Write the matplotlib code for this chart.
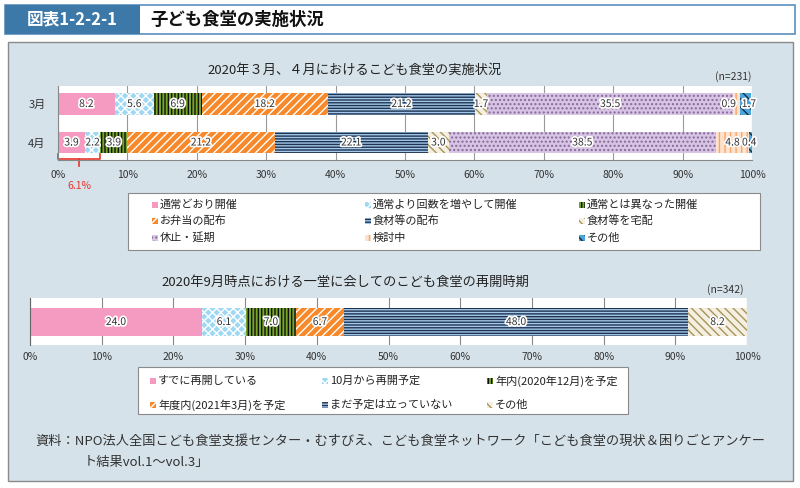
import matplotlib
matplotlib.use('Agg')
import matplotlib.pyplot as plt
import matplotlib.patheffects as pe
from matplotlib.patches import Rectangle
from matplotlib.transforms import blended_transform_factory
import numpy as np

plt.rcParams['font.family'] = ['Noto Sans CJK JP', 'DejaVu Sans']
plt.rcParams['hatch.linewidth'] = 1.0

W, H = 800, 488

# ---- data ----
months = ['3月', '4月']
cats1 = ['通常どおり開催', '通常より回数を増やして開催', '通常とは異なった開催',
         'お弁当の配布', '食材等の配布', '食材等を宅配',
         '休止・延期', '検討中', 'その他']
mar = [8.2, 5.6, 6.9, 18.2, 21.2, 1.7, 35.5, 0.9, 1.7]
apr = [3.9, 2.2, 3.9, 21.2, 22.1, 3.0, 38.5, 4.8, 0.4]

cats2 = ['すでに再開している', '10月から再開予定', '年内(2020年12月)を予定',
         '年度内(2021年3月)を予定', 'まだ予定は立っていない', 'その他']
sep = [24.0, 6.1, 7.0, 6.7, 48.0, 8.2]

ticks = list(range(0, 101, 10))
tick_labels = [f'{t}%' for t in ticks]

# label nudges (in % units) so the thin segments' numbers don't collide
nudge = {(0, 7): -1.1, (0, 8): 0.5, (1, 8): -0.2}

# fill styles: face colour, hatch colour, hatch
pink = ('#f59ac0', '#f59ac0', None)
lblue = ('#9fd8f2', '#ffffff', 'xxxx')
green = ('#76a62a', '#111111', '|||||')
orange = ('#f7892a', '#ffffff', '////')
navy = ('#1f3350', '#a3c8ea', '------')
tan = ('#f4efe0', '#a8935a', '\\\\\\\\')
purple = ('#d8c5e4', '#86699c', '....')
peach = ('#fde3cf', '#f7a66a', '|||')
other = ('#4aa6dc', '#1b2d45', '\\\\\\\\')
styles1 = [pink, lblue, green, orange, navy, tan, purple, peach, other]
styles2 = [pink, lblue, green, orange, navy, tan]


def fx(px):
    return px / W


def fy(py):
    return 1 - py / H


halo = [pe.withStroke(linewidth=2.5, foreground='white')]

fig = plt.figure(figsize=(W / 100, H / 100), dpi=100)
fig.patch.set_facecolor('white')

# header
fig.add_artist(Rectangle((fx(5), fy(34)), fx(790), 29 / H, transform=fig.transFigure,
                         facecolor='white', edgecolor='#5b8fbd', lw=1.2, zorder=-2))
fig.add_artist(Rectangle((fx(5), fy(34)), fx(135), 29 / H, transform=fig.transFigure,
                         facecolor='#3c78a8', edgecolor='none', zorder=-2))
fig.text(fx(72), fy(19.5), '図表1-2-2-1', color='white', fontsize=12, fontweight='bold',
         ha='center', va='center')
fig.text(fx(150), fy(19.5), '子ども食堂の実施状況', color='#111111', fontsize=12.5,
         fontweight='bold', ha='left', va='center')

# background panel
fig.add_artist(Rectangle((fx(8), fy(481)), fx(785), 439 / H, transform=fig.transFigure,
                         facecolor='#d6e2ea', edgecolor='#8a8a8a', lw=1.0, zorder=-2))

# ---- chart 1 ----
ax1 = fig.add_axes([fx(58), fy(160), 694 / W, 74 / H])
ax1.set_facecolor('white')
ax1.set_xlim(0, 100)
ax1.set_ylim(1.455, -0.468)
ypos = np.arange(len(months))
for yi, vals in zip(ypos, [mar, apr]):
    left = 0.0
    for j, (v, (fc, hc, h)) in enumerate(zip(vals, styles1)):
        ax1.barh(yi, v, left=left, height=0.57, color=fc, edgecolor=hc, hatch=h, lw=0)
        ax1.text(left + v / 2 + nudge.get((yi, j), 0), yi, f'{v:.1f}', ha='center',
                 va='center', fontsize=7.5, color='#333333', path_effects=halo)
        left += v
ax1.set_xticks(ticks)
ax1.set_xticklabels(tick_labels, fontsize=7.5, color='#333333')
ax1.set_yticks(ypos)
ax1.set_yticklabels(months, fontsize=8, color='#333333')
ax1.tick_params(axis='x', length=0, pad=7)
ax1.tick_params(axis='y', length=0, pad=9)
ax1.grid(axis='x', color='#999999', lw=0.8)
ax1.set_axisbelow(True)
for s in ['top', 'right']:
    ax1.spines[s].set_visible(False)
for s in ['left', 'bottom']:
    ax1.spines[s].set_color('#888888')

fig.text(fx(355), fy(70), '2020年３月、４月におけるこども食堂の実施状況', fontsize=9.5,
         ha='center', va='center', color='#222222')
fig.text(fx(733), fy(77), '(n=231)', fontsize=7.5, ha='center', va='center', color='#333333')

# red bracket for 4月 first two categories
share = apr[0] + apr[1]
tr = blended_transform_factory(ax1.transData, fig.transFigure)
ax1.plot([0, 0, share, share], [fy(154), fy(159), fy(159), fy(154)], color='#e8352b',
         lw=1.2, transform=tr, clip_on=False)
ax1.plot([share / 2, share / 2], [fy(159), fy(166)], color='#e8352b', lw=1.2,
         transform=tr, clip_on=False)
ax1.text(share / 2, fy(186), f'{share:.1f}%', color='#e8352b', fontsize=7.5,
         ha='center', va='center', transform=tr)


def legend(box, cols, rows, labels, styles):
    x0, y0, x1, y1 = box
    fig.add_artist(Rectangle((fx(x0), fy(y1)), (x1 - x0) / W, (y1 - y0) / H,
                             transform=fig.transFigure, facecolor='white',
                             edgecolor='#8a8a8a', lw=0.8))
    for i, (lab, (fc, hc, h)) in enumerate(zip(labels, styles)):
        cx = cols[i % len(cols)]
        cy = rows[i // len(cols)]
        fig.add_artist(Rectangle((fx(cx - 3), fy(cy + 3)), 6 / W, 6 / H,
                                 transform=fig.transFigure, facecolor=fc,
                                 edgecolor=hc, hatch=h, lw=0))
        fig.text(fx(cx + 5), fy(cy), lab, fontsize=8, ha='left', va='center',
                 color='#222222')


legend((128, 193, 760, 250), [155, 368, 582], [205, 221, 238], cats1, styles1)

# ---- chart 2 ----
ax2 = fig.add_axes([fx(30), fy(345), 717 / W, 47 / H])
ax2.set_facecolor('white')
ax2.set_xlim(0, 100)
ax2.set_ylim(0.49, -0.51)
left = 0.0
for v, (fc, hc, h) in zip(sep, styles2):
    ax2.barh(0, v, left=left, height=0.6, color=fc, edgecolor=hc, hatch=h, lw=0)
    ax2.text(left + v / 2, 0, f'{v:.1f}', ha='center', va='center', fontsize=7.5,
             color='#333333', path_effects=halo)
    left += v
ax2.set_xticks(ticks)
ax2.set_xticklabels(tick_labels, fontsize=7.5, color='#333333')
ax2.set_yticks([])
ax2.tick_params(axis='x', length=0, pad=5)
ax2.grid(axis='x', color='#888888', lw=0.8)
ax2.set_axisbelow(True)
for s in ['top', 'right', 'bottom']:
    ax2.spines[s].set_visible(False)
ax2.spines['left'].set_color('#666666')

fig.text(fx(345), fy(282), '2020年9月時点における一堂に会してのこども食堂の再開時期',
         fontsize=9.5, ha='center', va='center', color='#222222')
fig.text(fx(725), fy(290), '(n=342)', fontsize=7.5, ha='center', va='center', color='#333333')

legend((138, 367, 628, 414), [153, 325, 490], [381, 405], cats2, styles2)

# source note
fig.text(fx(35), fy(441), '資料：NPO法人全国こども食堂支援センター・むすびえ、こども食堂ネットワーク「こども食堂の現状＆困りごとアンケー',
         fontsize=9.5, ha='left', va='center', color='#333333')
fig.text(fx(84), fy(462), 'ト結果vol.1～vol.3」', fontsize=9.5, ha='left', va='center',
         color='#333333')

fig.savefig('out.png', dpi=100)
